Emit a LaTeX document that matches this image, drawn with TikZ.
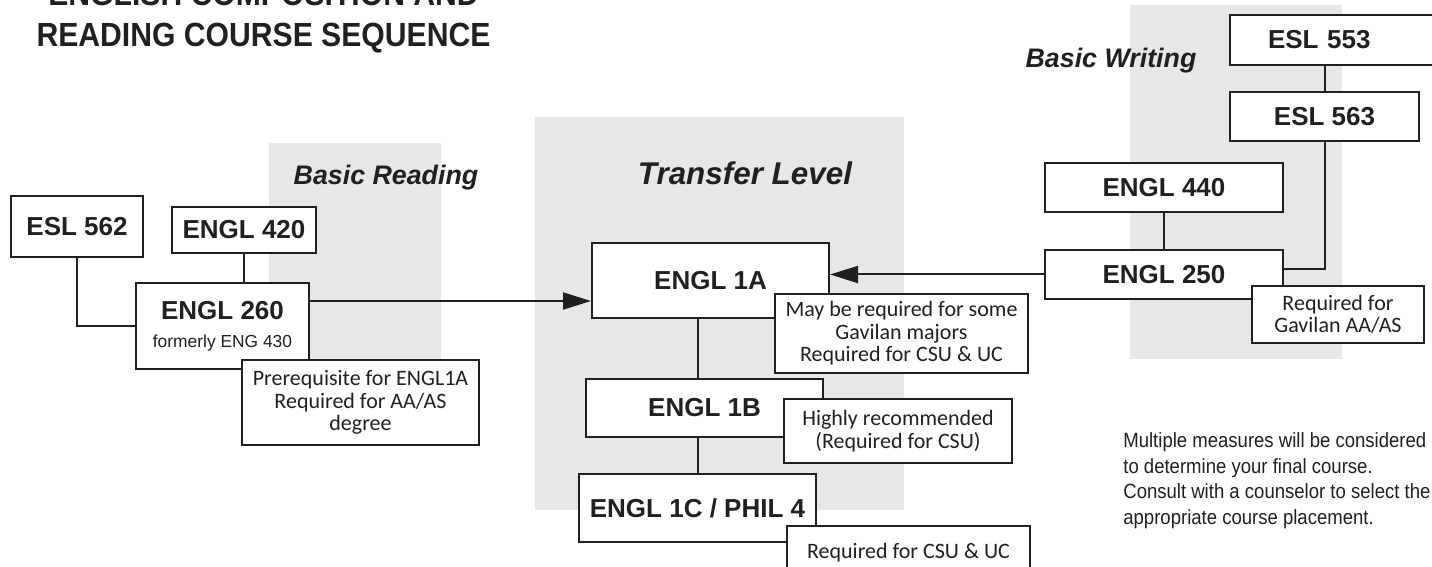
\documentclass[tikz,border=0pt]{standalone}
\usepackage{fontspec}
\setmainfont{Liberation Sans}
\newfontfamily\notefont{Carlito}
\usetikzlibrary{positioning,arrows.meta,calc}
\definecolor{cgInk}{RGB}{35,31,32}
\definecolor{cgBand}{RGB}{230,231,232}
\tikzset{
    base/.style={align=center, text=cgInk},
    course/.style={base, rectangle, draw=cgInk, line width=1pt, fill=white,
                   inner sep=0pt, font=\bfseries\fontsize{13}{15}\selectfont},
    note/.style={base, rectangle, draw=cgInk, line width=1pt, fill=white,
                 inner sep=0pt, font=\notefont\fontsize{11}{11.2}\selectfont},
    level/.style={base, font=\bfseries\itshape\fontsize{13.4}{16}\selectfont},
    headline/.style={base, inner sep=0pt, xscale=0.9, transform shape,
                     font=\bfseries\fontsize{16.75}{20}\selectfont},
    band/.style={fill=cgBand, draw=none},
    link/.style={line width=1pt, draw=cgInk},
    flow/.style={link, -{Triangle[length=14pt,width=8.5pt]}}
}

\begin{document}
\begin{tikzpicture}[x=0.5pt, y=-0.5pt]
  \useasboundingbox (0,0) rectangle (1432,567);
  \clip (0,0) rectangle (1432,567);

  % shaded levels
  \fill[band] (269,143) rectangle (441,440);
  \fill[band] (535,117) rectangle (904,510);
  \fill[band] (1130,5) rectangle (1342,359);

  % title
  \node[headline, anchor=base] (title1) at (263.5,6) {ENGLISH COMPOSITION AND};
  \node[headline, anchor=base] (title2) at (263.5,47) {READING COURSE SEQUENCE};

  \node[level] (readlbl) at (386,178) {Basic Reading};
  \node[level, font=\bfseries\itshape\fontsize{15.7}{18}\selectfont] (translbl) at (745,173) {Transfer Level};
  \node[level] (writelbl) at (1111,61) {Basic Writing};

  % courses
  \node[course, minimum width=66pt, minimum height=30.5pt] (esl562) at (77,226.5) {ESL 562};
  \node[course, minimum width=72pt, minimum height=23pt] (engl420) at (244,230) {ENGL 420};
  \node[course, minimum width=86.5pt, minimum height=43pt] (engl260) at (222.5,326)
       {ENGL 260\\[-1pt]{\mdseries\fontsize{8.7}{10}\selectfont formerly ENG 430}};

  \node[course, minimum width=118.5pt, minimum height=37.5pt] (engl1a) at (710.5,280.5) {ENGL 1A};
  \node[course, minimum width=118.5pt, minimum height=29pt] (engl1b) at (704.5,408) {ENGL 1B};
  \node[course, minimum width=118.5pt, minimum height=34pt] (engl1c) at (697.5,508) {ENGL 1C / PHIL 4};

  \node[course, minimum width=119pt, minimum height=24.5pt] (engl440) at (1164,187.5) {ENGL 440};
  \node[course, minimum width=119pt, minimum height=24.5pt] (engl250) at (1164,274.5) {ENGL 250};
  \node[course, anchor=west, minimum height=25pt, text width=73pt, align=left,
        inner xsep=19pt] (esl553) at (1229,40) {ESL 553};
  \node[course, minimum width=94.5pt, minimum height=24.5pt] (esl563) at (1324.5,116.5) {ESL 563};

  % links
  \draw[link] (esl562.south) |- (engl260.west);
  \draw[link] (engl420.south) -- (engl420.south |- engl260.north);
  \draw[flow] ([yshift=12.5pt]engl260.east) -- ([yshift=12.5pt]engl260.east -| engl1a.west);
  \draw[link] (engl1c.north |- engl1a.south) -- (engl1c.north |- engl1b.north);
  \draw[link] (engl1c.north |- engl1b.south) -- (engl1c.north);
  \draw[link] (engl440.south) -- (engl250.north);
  \draw[flow] (engl250.west) -- (engl250.west -| engl1a.east);
  \draw[link] (esl563.north) -- (esl563.north |- esl553.south);
  \draw[link] (esl563.south) |- ([yshift=2.75pt]engl250.east);

  % notes
  \node[note, minimum width=118.5pt, minimum height=42.5pt] (note260) at (360.5,402.5)
       {Prerequisite for ENGL1A\\Required for AA/AS\\degree};
  \node[note, minimum width=126.5pt, minimum height=39.5pt] (note1a) at (901.5,333.5)
       {May be required for some\\Gavilan majors\\Required for CSU \& UC};
  \node[note, minimum width=114pt, minimum height=32pt] (note1b) at (898,431)
       {Highly recommended\\(Required for CSU)};
  \node[note, minimum width=121.5pt, minimum height=27pt] (note1c) at (908.5,553)
       {Required for CSU \& UC};
  \node[note, minimum width=86pt, minimum height=28.5pt] (note250) at (1338,314.5)
       {Required for\\Gavilan AA/AS};

  \node[base, anchor=north west, align=left, inner sep=0pt, xscale=0.9, transform shape,
        font=\fontsize{10.3}{12.85}\selectfont] (advice) at (1123,432)
       {Multiple measures will be considered\\to determine your final course.\\Consult with a counselor to select the\\appropriate course placement.};
\end{tikzpicture}
\end{document}
